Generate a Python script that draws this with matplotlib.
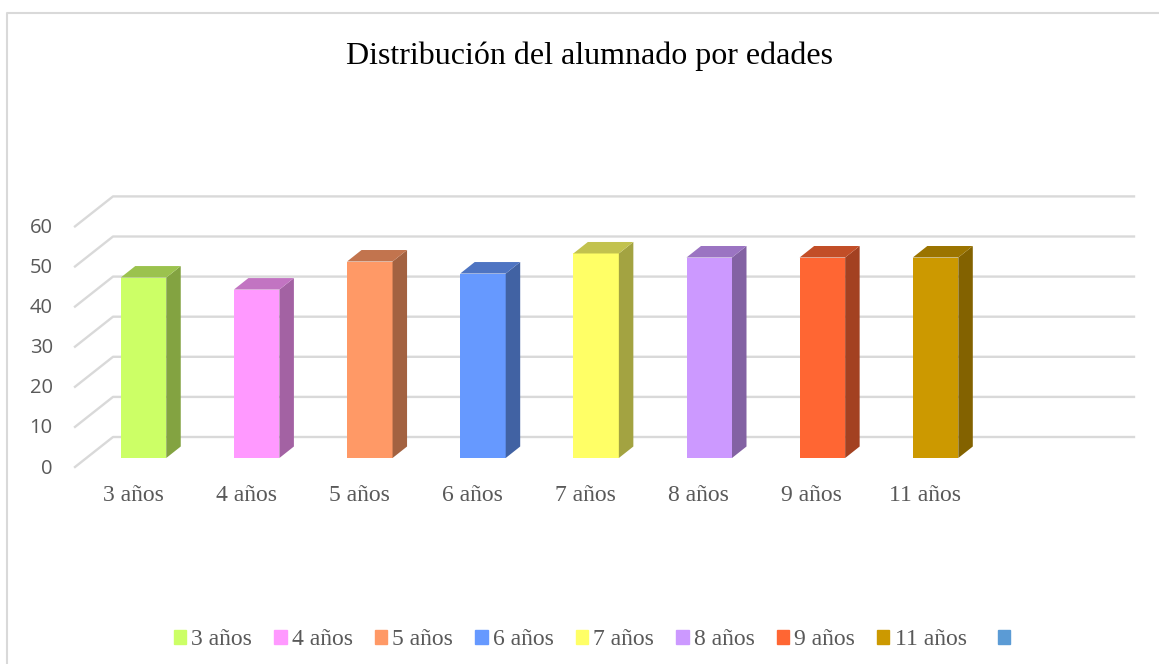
import matplotlib
matplotlib.use('Agg')
import matplotlib.pyplot as plt
from matplotlib.patches import Polygon, Patch
from matplotlib.lines import Line2D
import numpy as np

categories = ['3 años', '4 años', '5 años', '6 años', '7 años', '8 años', '9 años', '11 años']
values = [45, 42, 49, 46, 51, 50, 50, 50]
colors = ['#CCFF66', '#FF99FF', '#FF9966', '#6699FF', '#FFFF66', '#CC99FF', '#FF6633', '#CC9900']
yticks = [0, 10, 20, 30, 40, 50, 60]
title = 'Distribución del alumnado por edades'
extra_legend_color = '#5B9BD5'

W, H = 1159, 664
GRID = '#D9D9D9'
TEXT = '#595959'

# pixel geometry of the fake 3d box
x0, dx_px = 143.5, 113.15
y0, dy_px = 458.0, 4.01
left, right, bottom, top = 75, 1134, 467, 190

fig = plt.figure(figsize=(W/100, H/100), dpi=100)
ax = fig.add_axes([left/W, 1 - bottom/H, (right-left)/W, (bottom-top)/H])
ax.set_xlim((left-x0)/dx_px, (right-x0)/dx_px)
ax.set_ylim((y0-bottom)/dy_px, (y0-top)/dy_px)
ax.patch.set_visible(False)
for s in ax.spines.values():
    s.set_visible(False)

# data units per pixel
ux = 1/dx_px
uy = 1/dy_px
half = 22.75*ux
bar_dx, bar_dy = 14.5*ux, 11.5*uy

# walls
for v in yticks:
    xs = [(75-x0)*ux, (113-x0)*ux, (1134-x0)*ux]
    ys = [v + (y0-467)*uy, v + (y0-437)*uy, v + (y0-437)*uy]
    ax.add_line(Line2D(xs, ys, color=GRID, lw=1.7, zorder=1, clip_on=False))

# bars
for i, (v, c) in enumerate(zip(values, colors)):
    rgb = np.array(matplotlib.colors.to_rgb(c))
    ax.bar(i, v, width=2*half, color=c, zorder=3)
    side = [(i+half, 0), (i+half+bar_dx, bar_dy), (i+half+bar_dx, v+bar_dy), (i+half, v)]
    roof = [(i-half, v), (i+half, v), (i+half+bar_dx, v+bar_dy), (i-half+bar_dx, v+bar_dy)]
    ax.add_patch(Polygon(side, closed=True, fc=rgb*0.64, ec='none', zorder=3))
    ax.add_patch(Polygon(roof, closed=True, fc=rgb*0.76, ec='none', zorder=3))

ax.set_xticks(np.arange(len(categories)) - 10.5*ux)
ax.set_xticklabels(categories, family='Liberation Serif', fontsize=17, color=TEXT)
ax.set_yticks(np.array(yticks) + (y0-466)*uy)
ax.set_yticklabels(yticks, family='Open Sans', fontsize=14.5, color=TEXT)
ax.tick_params(axis='both', length=0)
ax.tick_params(axis='x', pad=13)
ax.tick_params(axis='y', pad=16)

fig.text(589/W, 1 - 56/H, title, family='Liberation Serif', fontsize=23,
         color='black', ha='center', va='center')

leg_kw = dict(ncol=8, frameon=False, prop={'family': 'Liberation Serif', 'size': 17},
              labelcolor=TEXT, handlelength=0.52, handleheight=0.52,
              handletextpad=0.22, columnspacing=0.935, borderpad=0, borderaxespad=0)
handles = [Patch(color=c) for c in colors]
fig.legend(handles, categories, loc='center left', bbox_to_anchor=(174/W, 1 - 639.5/H), **leg_kw)
# the last legend entry has no label and sits further away
fig.legend([Patch(color=extra_legend_color)], [''], loc='center left',
           bbox_to_anchor=(998/W, 1 - 639.5/H), **leg_kw)

# outer frame, only left and top are inside the crop
fig.add_artist(Line2D([6.5/W, 6.5/W, 1], [0, 1 - 12.5/H, 1 - 12.5/H], color=GRID, lw=1.5))

fig.savefig('out.png', dpi=100)
